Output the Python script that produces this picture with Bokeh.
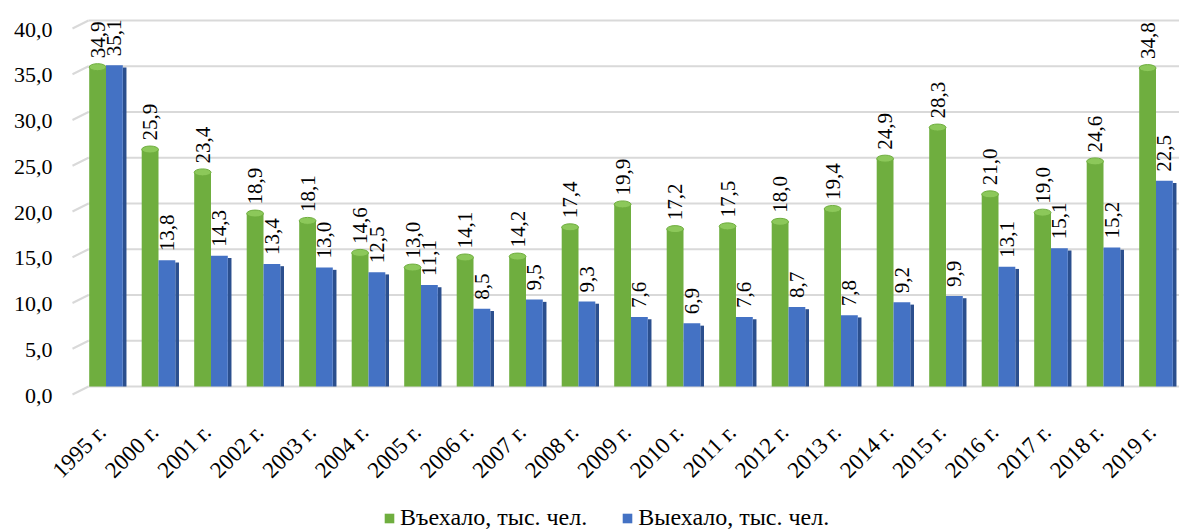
from math import pi
from bokeh.plotting import figure
from bokeh.models import (ColumnDataSource, LabelSet, Legend, LegendItem,
                          Range1d)
from bokeh.transform import dodge
from bokeh.core.properties import value
from bokeh.embed import file_html
from bokeh.resources import INLINE

years = ["1995 г.", "2000 г.", "2001 г.", "2002 г.", "2003 г.", "2004 г.",
         "2005 г.", "2006 г.", "2007 г.", "2008 г.", "2009 г.", "2010 г.",
         "2011 г.", "2012 г.", "2013 г.", "2014 г.", "2015 г.", "2016 г.",
         "2017 г.", "2018 г.", "2019 г."]
arrived = [34.9, 25.9, 23.4, 18.9, 18.1, 14.6, 13.0, 14.1, 14.2, 17.4, 19.9,
           17.2, 17.5, 18.0, 19.4, 24.9, 28.3, 21.0, 19.0, 24.6, 34.8]
departed = [35.1, 13.8, 14.3, 13.4, 13.0, 12.5, 11.1, 8.5, 9.5, 9.3, 7.6,
            6.9, 7.6, 8.7, 7.8, 9.2, 9.9, 13.1, 15.1, 15.2, 22.5]
series_names = ["Въехало, тыс. чел.", "Выехало, тыс. чел."]
y_ticks = [0, 5, 10, 15, 20, 25, 30, 35, 40]

FONT = "Liberation Serif"
GREEN = "#6fae3f"
GREEN_TOP = "#8cc85a"
BLUE = "#4472c4"
BLUE_SIDE = "#2b4f8e"
GRID = "#d9d9d9"

# layout scale (pixels per data unit)
PX_X, PX_Y = 52.5, 9.15
W_PX, H_PX = 1179, 531
X0 = -105.5 / PX_X
Y0 = -(H_PX - 386) / PX_Y
x_range = Range1d(X0, X0 + W_PX / PX_X)
y_range = Range1d(Y0, Y0 + H_PX / PX_Y)


def fmt(v):
    return f"{v:.1f}".replace(".", ",")


src = ColumnDataSource(dict(
    x=list(range(len(years))),
    year=years,
    zero=[0] * len(years),
    arrived=arrived,
    departed=departed,
    arrived_lbl=[fmt(v) for v in arrived],
    departed_lbl=[fmt(v) for v in departed],
    departed_side=[v - 0.25 for v in departed],
))

# grid source: flat back-wall line plus a short slanted stub at the left
gx_a = X0 + 72 / PX_X
gx_b = X0 + 88 / PX_X
gdy = 8 / PX_Y
grid_src = ColumnDataSource(dict(
    t=y_ticks,
    t_low=[t - gdy for t in y_ticks],
    lbl=[fmt(t) for t in y_ticks],
    xa=[gx_a] * len(y_ticks),
    xb=[gx_b] * len(y_ticks),
    xe=[x_range.end] * len(y_ticks),
    xl=[X0] * len(y_ticks),
))

p = figure(frame_width=W_PX, frame_height=H_PX, output_backend="svg",
           toolbar_location=None, x_range=x_range, y_range=y_range,
           min_border_left=0, min_border_right=0, min_border_top=0,
           min_border_bottom=0)
p.outline_line_color = None
p.background_fill_color = "white"
p.xaxis.visible = False
p.yaxis.visible = False
p.xgrid.visible = False
p.ygrid.visible = False

p.segment(x0="xb", y0="t", x1="xe", y1="t", source=grid_src,
          line_color=GRID, line_width=2)
p.segment(x0="xa", y0="t_low", x1="xb", y1="t", source=grid_src,
          line_color=GRID, line_width=2)

GO, BO, W = -0.16, 0.16, 0.32
g = p.vbar(x=dodge("x", GO, range=p.x_range), top="arrived", bottom=0,
           width=W, source=src, fill_color=GREEN, line_color=None)
p.ellipse(x=dodge("x", GO, range=p.x_range), y="arrived", width=W, height=7,
          height_units="screen", source=src, fill_color=GREEN_TOP,
          line_color=GREEN)
p.vbar(x=dodge("x", BO + W / 2 + 0.035, range=p.x_range), top="departed_side",
       bottom=0, width=0.07, source=src, fill_color=BLUE_SIDE,
       line_color=None)
b = p.vbar(x=dodge("x", BO, range=p.x_range), top="departed", bottom=0,
           width=W, source=src, fill_color=BLUE, line_color=None)

# value labels above the bars
for col, off in (("arrived", GO), ("departed", BO)):
    p.add_layout(LabelSet(x=dodge("x", off, range=p.x_range), y=col,
                          text=col + "_lbl", source=src, angle=pi / 2,
                          text_align="left", text_baseline="middle",
                          y_offset=9, text_font=value(FONT),
                          text_font_size="21px", text_color="black"))

# category labels, rotated 45 degrees
p.add_layout(LabelSet(x="x", y="zero", text="year", source=src, angle=pi / 4,
                      text_align="right", text_baseline="middle", x_offset=-4,
                      y_offset=-42, text_font=value(FONT),
                      text_font_size="23px", text_color="black"))

# value-axis labels
p.add_layout(LabelSet(x="xl", y="t", text="lbl", source=grid_src,
                      text_align="right", text_baseline="middle", x_offset=52,
                      y_offset=-9, text_font=value(FONT),
                      text_font_size="22px", text_color="black"))

legend = Legend(items=[LegendItem(label=series_names[0], renderers=[g]),
                       LegendItem(label=series_names[1], renderers=[b])],
                orientation="horizontal", location=(383, 0),
                label_text_font=FONT, label_text_font_size="24px",
                label_text_color="black",
                glyph_width=12, glyph_height=12, spacing=34,
                label_standoff=5, border_line_color=None,
                background_fill_alpha=0, margin=0, padding=2)
p.add_layout(legend)

open("out.html", "w").write(file_html(p, INLINE))
